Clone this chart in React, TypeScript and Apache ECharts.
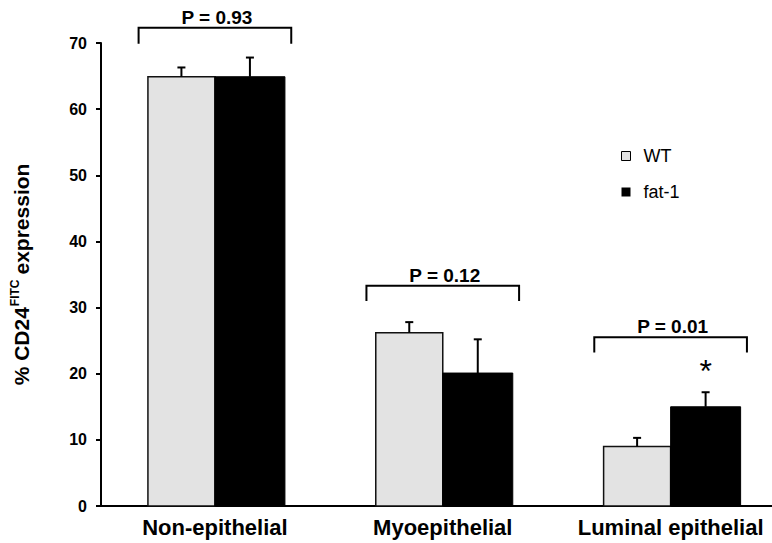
import React, { useEffect, useRef } from "react";
import * as echarts from "echarts";

const categories = ["Non-epithelial", "Myoepithelial", "Luminal epithelial"];
const wtMean = [64.9, 26.2, 9.0];
const wtErr = [1.4, 1.6, 1.3];
const fatMean = [64.9, 20.1, 15.0];
const fatErr = [2.9, 5.1, 2.2];
const pLabels = ["P = 0.93", "P = 0.12", "P = 0.01"];
const bracketTop = [72.3, 33.3, 25.5];
const bracketBottom = [69.9, 31.0, 23.2];
const significance = ["", "", "*"];
const yTicks = [0, 10, 20, 30, 40, 50, 60, 70];

const FONT = "'Liberation Sans', Arial, sans-serif";

export default function App() {
  const ref = useRef<HTMLDivElement>(null);
  useEffect(() => {
    if (!ref.current) return;
    const chart = echarts.init(ref.current, undefined, { renderer: "svg" });

    const barRender = (isWT: boolean) => (params: any, api: any) => {
      const i = api.value(0);
      const v = api.value(1);
      const e = api.value(2);
      const base = api.coord([i, 0]);
      const top = api.coord([i, v]);
      const errTop = api.coord([i, v + e]);
      const w = isWT ? 67 : 70;
      const x0 = isWT ? base[0] - w : base[0];
      const cx = x0 + w / 2;
      const children: any[] = [
        {
          type: "rect",
          shape: { x: x0, y: top[1], width: w, height: base[1] - top[1] },
          style: isWT
            ? { fill: "#e3e3e3", stroke: "#111", lineWidth: 1.5 }
            : { fill: "#000", stroke: "#000", lineWidth: 1 },
        },
        {
          type: "line",
          shape: { x1: cx, y1: top[1], x2: cx, y2: errTop[1] },
          style: { stroke: "#000", lineWidth: 2 },
        },
        {
          type: "line",
          shape: { x1: cx - 4, y1: errTop[1], x2: cx + 4, y2: errTop[1] },
          style: { stroke: "#000", lineWidth: 2 },
        },
      ];
      if (!isWT && significance[i]) {
        children.push({
          type: "text",
          style: {
            text: significance[i],
            x: cx,
            y: errTop[1] - 5,
            align: "center",
            verticalAlign: "bottom",
            fontSize: 32,
            fontFamily: FONT,
            fill: "#000",
          },
        });
      }
      return { type: "group", children };
    };

    const option: any = {
      animation: false,
      grid: { left: 101, right: 0, top: 43, bottom: 37, outerBoundsMode: "none" },
      legend: {
        orient: "vertical",
        left: 621,
        top: 147,
        padding: 0,
        itemWidth: 9,
        itemHeight: 9,
        itemGap: 18,
        icon: "rect",
        textStyle: { fontSize: 18, fontFamily: FONT, color: "#000", padding: [0, 0, 0, 8] },
        data: [
          { name: "WT", itemStyle: { color: "#e3e3e3", borderColor: "#000", borderWidth: 1 } },
          { name: "fat-1", itemStyle: { color: "#000" } },
        ],
      },
      xAxis: {
        type: "value",
        min: -0.5,
        max: 2.445,
        axisLine: { show: true, onZero: false, lineStyle: { color: "#000", width: 2 } },
        axisTick: { show: false },
        splitLine: { show: false },
        axisLabel: {
          customValues: [0, 1, 2],
          formatter: (v: number) => categories[Math.round(v)],
          fontWeight: "bold",
          fontSize: 22,
          fontFamily: FONT,
          color: "#000",
          margin: 10,
        },
      },
      yAxis: {
        type: "value",
        min: 0,
        max: 70,
        interval: 10,
        axisLine: { show: true, onZero: false, lineStyle: { color: "#000", width: 2 } },
        axisTick: { show: true, length: 5, lineStyle: { color: "#000", width: 2 } },
        splitLine: { show: false },
        axisLabel: {
          fontWeight: "bold",
          fontSize: 16,
          fontFamily: FONT,
          color: "#000",
          margin: 14,
          formatter: (v: number) => (yTicks.includes(v) ? String(v) : ""),
        },
        name: "{a|% CD24}{s|FITC}{a|expression}",
        nameLocation: "middle",
        nameGap: 68,
        nameRotate: 90,
        nameTextStyle: {
          rich: {
            a: { fontSize: 21, fontWeight: "bold", fontFamily: FONT, color: "#000" },
            s: {
              fontSize: 12,
              fontWeight: "bold",
              fontFamily: FONT,
              color: "#000",
              padding: [0, 5, 12, 1],
            },
          },
        },
      },
      series: [
        {
          name: "WT",
          type: "custom",
          clip: false,
          itemStyle: { color: "#e3e3e3", borderColor: "#000" },
          renderItem: barRender(true),
          data: categories.map((_, i) => [i, wtMean[i], wtErr[i]]),
        },
        {
          name: "fat-1",
          type: "custom",
          clip: false,
          itemStyle: { color: "#000" },
          renderItem: barRender(false),
          data: categories.map((_, i) => [i, fatMean[i], fatErr[i]]),
        },
        {
          name: "brackets",
          type: "custom",
          clip: false,
          renderItem: (params: any, api: any) => {
            const i = api.value(0);
            const t = api.value(1);
            const b = api.value(2);
            const p1 = api.coord([i - 0.335, t]);
            const p2 = api.coord([i + 0.335, t]);
            const pb = api.coord([i, b]);
            return {
              type: "group",
              children: [
                {
                  type: "polyline",
                  shape: {
                    points: [
                      [p1[0], pb[1]],
                      [p1[0], p1[1]],
                      [p2[0], p1[1]],
                      [p2[0], pb[1]],
                    ],
                  },
                  style: { stroke: "#000", lineWidth: 2, fill: "none" },
                },
                {
                  type: "text",
                  style: {
                    text: pLabels[i],
                    x: (p1[0] + p2[0]) / 2 + 2,
                    y: p1[1] - 1,
                    align: "center",
                    verticalAlign: "bottom",
                    fontSize: 19,
                    fontWeight: "bold",
                    fontFamily: FONT,
                    fill: "#000",
                  },
                },
              ],
            };
          },
          data: categories.map((_, i) => [i, bracketTop[i], bracketBottom[i]]),
        },
      ],
    };
    chart.setOption(option);
    return () => chart.dispose();
  }, []);
  return (
    <div
      ref={ref}
      style={{ position: "fixed", left: 0, top: 0, width: 772, height: 543, background: "#fff" }}
    />
  );
}
